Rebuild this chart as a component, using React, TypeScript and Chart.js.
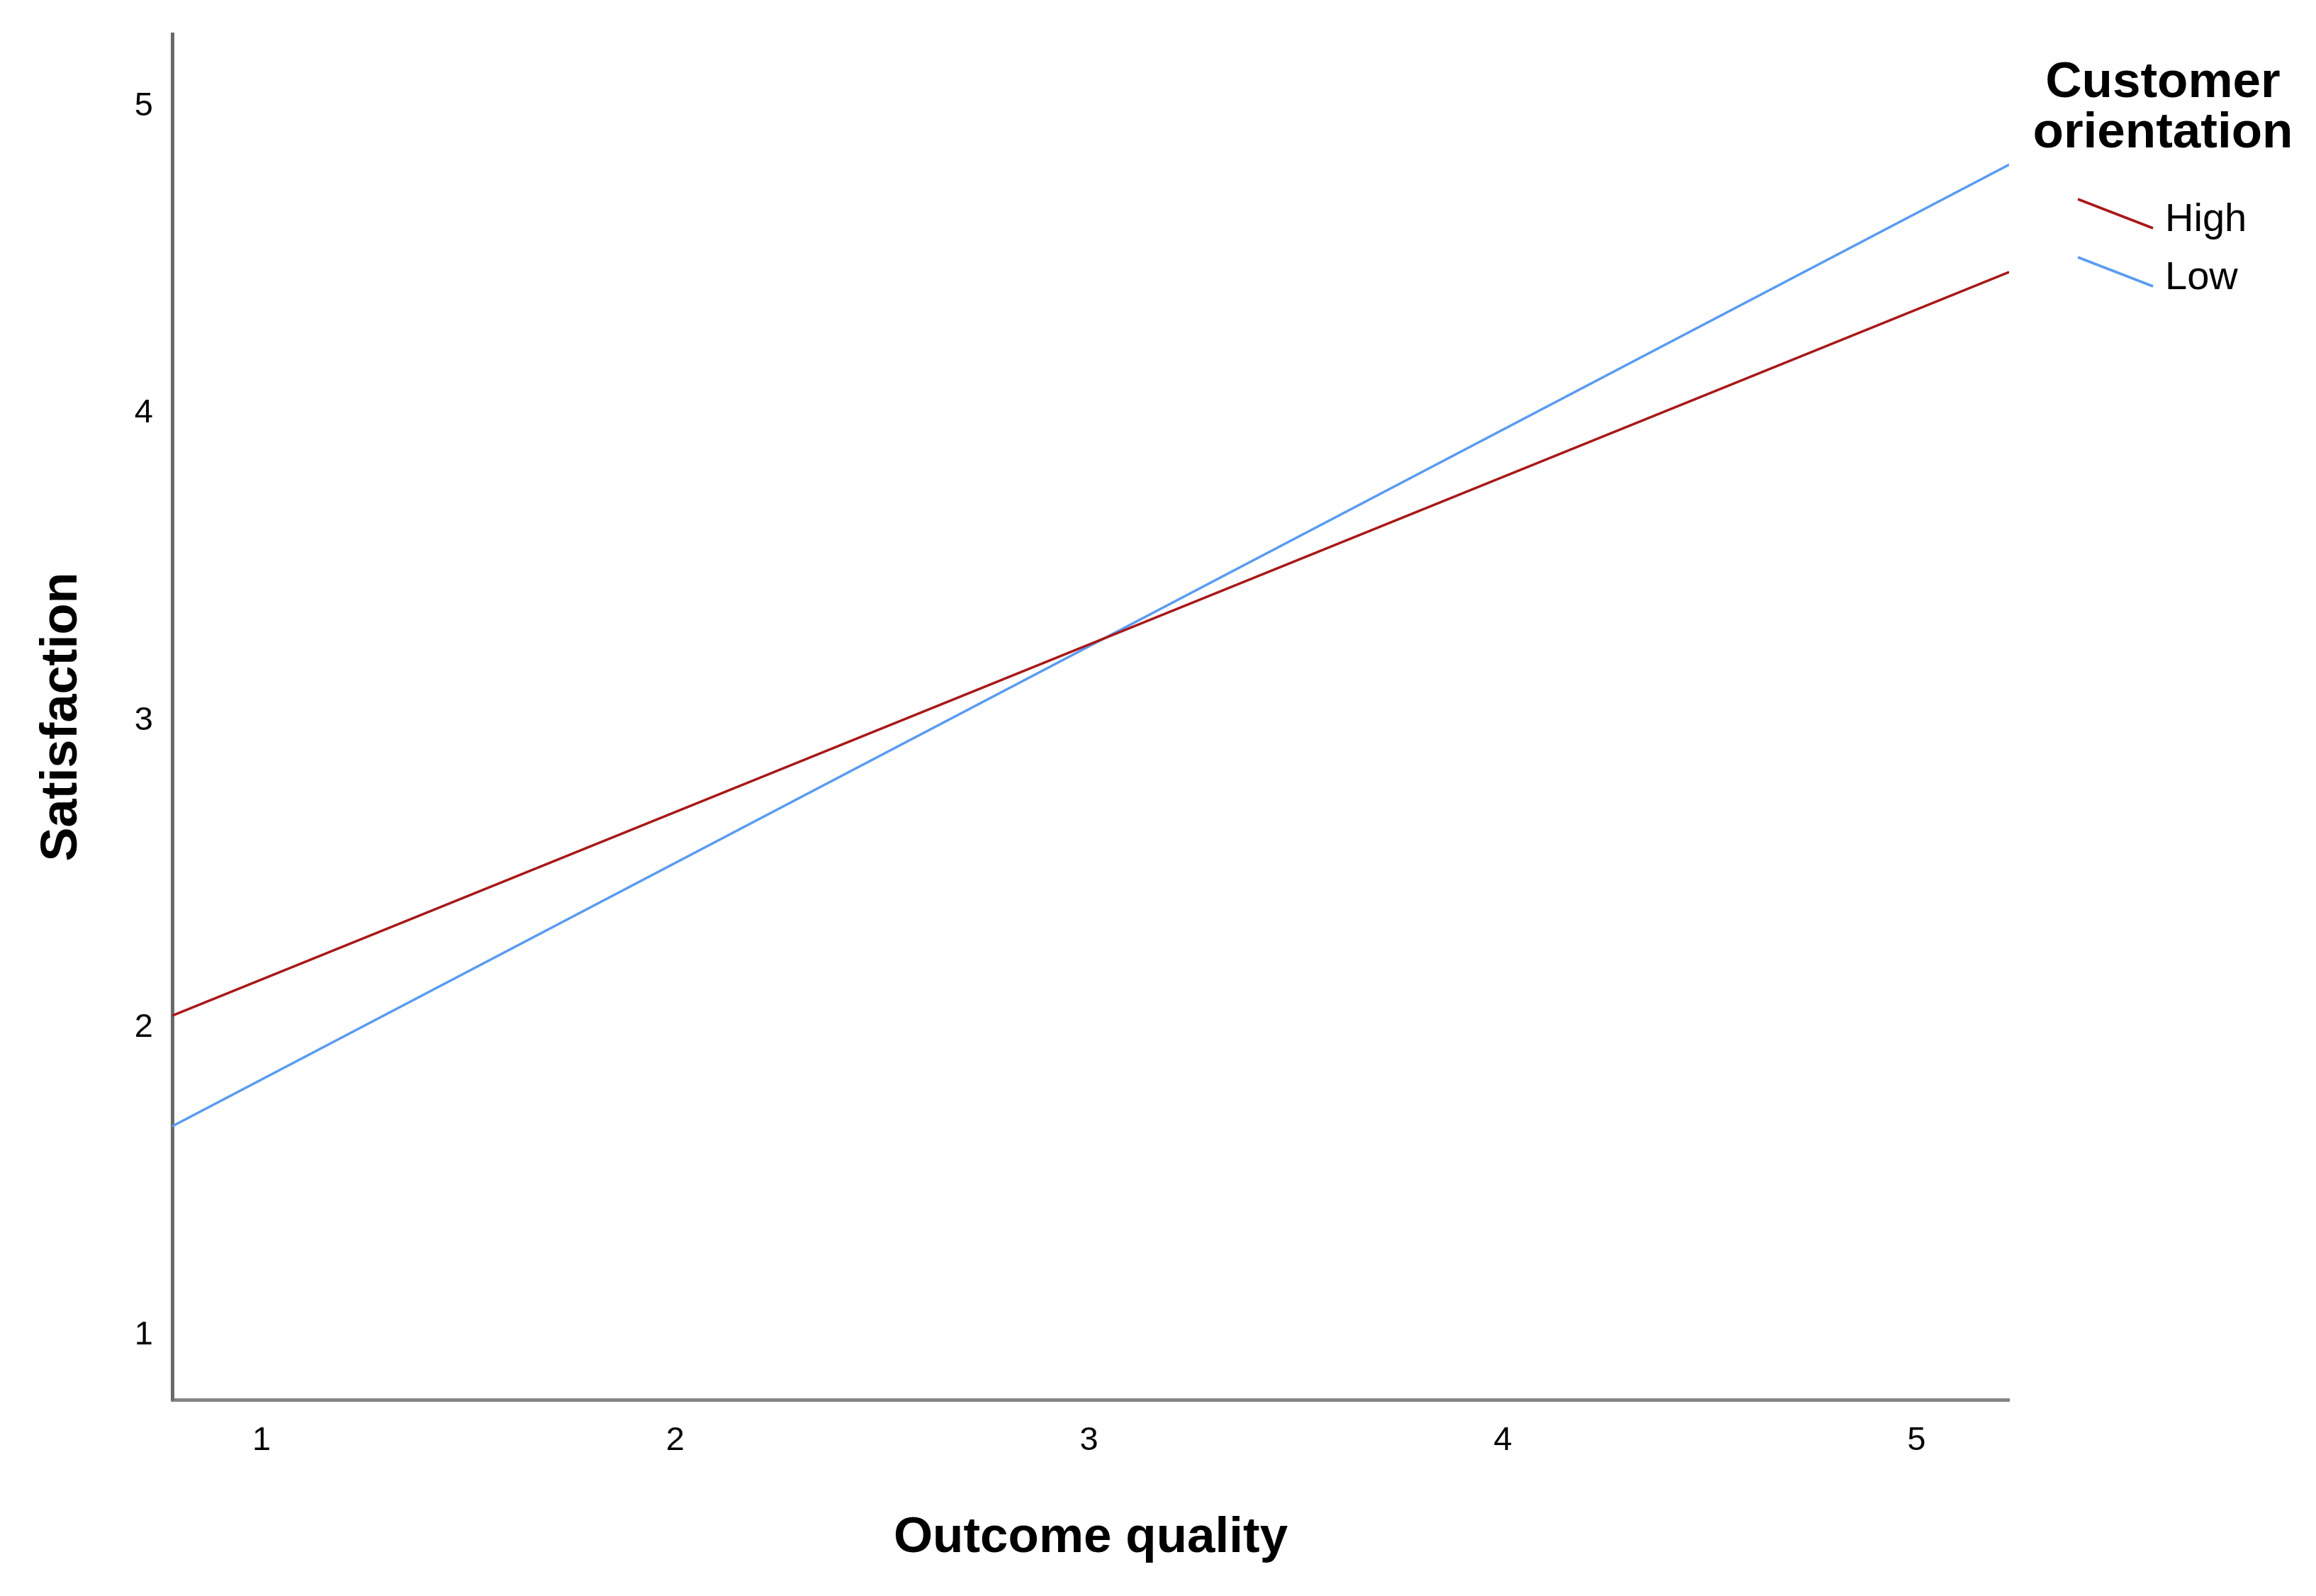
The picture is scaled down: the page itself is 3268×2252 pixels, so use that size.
import React, { useEffect, useRef } from "react";
import { Chart, registerables } from "chart.js";

Chart.register(...registerables);

// ---- data ----
const xEnds = [0.784, 5.224];
const highValues = [2.04, 4.46];
const lowValues = [1.68, 4.81];
const xTicks = [1, 2, 3, 4, 5];
const yTicks = [1, 2, 3, 4, 5];
const seriesLabels = ["High", "Low"];
const seriesColors = ["#a81818", "#5a9cf0"];
const legendTitle = ["Customer", "orientation"];
const xTitle = "Outcome quality";
const yTitle = "Satisfaction";
const xRange = [0.784, 5.224];
const yRange = [0.79, 5.235];

const FONT = "'Liberation Sans', Arial, Helvetica, sans-serif";

const sideLegend = {
  id: "sideLegend",
  afterDraw(chart: any) {
    const ctx = chart.ctx as CanvasRenderingContext2D;
    const area = chart.chartArea;
    const x0 = area.right;
    const top = area.top;
    ctx.save();
    ctx.fillStyle = "#000";
    ctx.font = `bold 71px ${FONT}`;
    ctx.textAlign = "center";
    ctx.textBaseline = "alphabetic";
    legendTitle.forEach((t, i) => {
      ctx.fillText(t, x0 + 217, top + 89 + i * 71);
    });
    ctx.font = `56px ${FONT}`;
    ctx.textAlign = "left";
    chart.data.datasets.forEach((ds: any, i: number) => {
      const ys = top + 233 + i * 82;
      ctx.strokeStyle = ds.borderColor;
      ctx.lineWidth = 3.5;
      ctx.beginPath();
      ctx.moveTo(x0 + 97, ys);
      ctx.lineTo(x0 + 203, ys + 41);
      ctx.stroke();
      ctx.fillStyle = "#000";
      ctx.fillText(ds.label, x0 + 220, ys + 45);
    });
    ctx.restore();
  },
};

export default function App() {
  const ref = useRef<HTMLCanvasElement>(null);
  useEffect(() => {
    document.body.style.margin = "0";
    Chart.defaults.font.family = FONT;
    const datasets = [highValues, lowValues].map((vals, i) => ({
      label: seriesLabels[i],
      data: vals.map((v, j) => ({ x: xEnds[j], y: v })),
      borderColor: seriesColors[i],
      backgroundColor: seriesColors[i],
      borderWidth: 3.5,
      pointRadius: 0,
      showLine: true,
      tension: 0,
    }));
    const chart = new Chart(ref.current!, {
      type: "scatter",
      data: { datasets },
      plugins: [sideLegend],
      options: {
        animation: false,
        responsive: false,
        devicePixelRatio: 1,
        layout: { padding: { top: 48, right: 433, left: 0, bottom: 0 } },
        plugins: { legend: { display: false }, tooltip: { enabled: false } },
        scales: {
          x: {
            type: "linear",
            min: xRange[0],
            max: xRange[1],
            afterBuildTicks: (s: any) => {
              s.ticks = xTicks.map((v) => ({ value: v }));
            },
            afterFit: (s: any) => {
              s.height = 277;
            },
            ticks: {
              color: "#000",
              font: { size: 47 },
              padding: 22,
              maxRotation: 0,
              autoSkip: false,
              callback: (v: any) => String(v),
            },
            grid: { display: false },
            border: { display: true, color: "#858585", width: 5 },
            title: {
              display: true,
              text: xTitle,
              color: "#000",
              font: { size: 71, weight: "bold" },
              padding: { top: 0, bottom: 39 },
            },
          },
          y: {
            type: "linear",
            min: yRange[0],
            max: yRange[1],
            afterBuildTicks: (s: any) => {
              s.ticks = yTicks.map((v) => ({ value: v }));
            },
            afterFit: (s: any) => {
              s.width = 243;
            },
            ticks: {
              color: "#000",
              font: { size: 47 },
              padding: 19,
              autoSkip: false,
              callback: (v: any) => String(v),
            },
            grid: { display: false },
            border: { display: true, color: "#6a6a6a", width: 5 },
            title: {
              display: true,
              text: yTitle,
              color: "#000",
              font: { size: 72, weight: "bold" },
              padding: { top: 45, bottom: 0 },
            },
          },
        },
      },
    });
    return () => chart.destroy();
  }, []);
  return (
    <div style={{ width: 3268, height: 2252, position: "relative", background: "#fff" }}>
      <canvas ref={ref} width={3268} height={2252} style={{ display: "block", width: 3268, height: 2252 }} />
    </div>
  );
}
